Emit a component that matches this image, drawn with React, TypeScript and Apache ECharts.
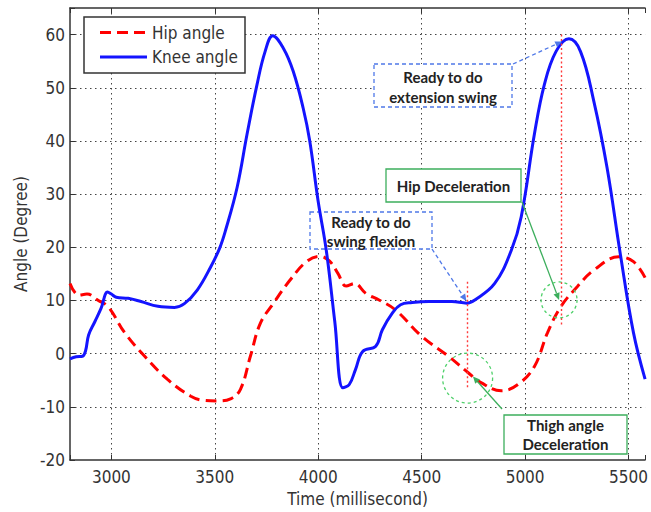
import React, { useEffect, useRef } from 'react';
import * as echarts from 'echarts';

// ---- data ----
const kneeTime = [2800, 2830, 2860, 2875, 2890, 2920, 2950, 2982, 3000, 3024, 3081, 3143, 3225, 3305, 3353, 3416, 3480, 3523, 3552, 3608, 3656, 3704, 3743, 3780, 3832, 3879, 3927, 3959, 3999, 4039, 4080, 4119, 4150, 4180, 4215, 4278, 4310, 4358, 4398, 4454, 4534, 4646, 4718, 4757, 4853, 4933, 4981, 5045, 5093, 5149, 5212, 5268, 5332, 5396, 5460, 5524, 5580];
const kneeAngle = [-1, -0.6, -0.5, 0.5, 3.5, 6, 8.5, 11.6, 11.2, 10.6, 10.4, 9.8, 8.9, 8.7, 9.4, 12, 16.3, 19.8, 23.2, 31.3, 41.3, 50.6, 56.8, 59.8, 57.4, 53.1, 46.2, 40, 28.8, 19.4, 6, -6.4, -5.8, -3, 0.4, 1.4, 4.5, 7.6, 9.2, 9.6, 9.8, 9.8, 9.5, 10.1, 13.2, 19.4, 25.7, 41.3, 50.6, 56.8, 59.2, 56.8, 47.5, 35, 18.8, 3.9, -4.8];

const hipTime = [2800, 2842, 2882, 2937, 2985, 3065, 3161, 3273, 3384, 3448, 3512, 3576, 3624, 3672, 3720, 3784, 3863, 3943, 4007, 4055, 4095, 4135, 4175, 4231, 4294, 4374, 4502, 4630, 4725, 4789, 4885, 4965, 5045, 5108, 5172, 5252, 5332, 5452, 5524, 5580];
const hipAngle = [13.2, 11, 11.2, 10, 8.8, 3.9, -0.5, -4.9, -8, -8.8, -8.9, -8.5, -6.7, -0.5, 5.7, 9.5, 13.8, 17.3, 18.3, 17.4, 15.1, 12.7, 13.2, 11.3, 10.1, 8.2, 3.2, -0.5, -3.6, -5.5, -7, -5.8, -2.4, 3.9, 8.8, 12.6, 15.7, 18.2, 17.3, 14.3];

const seriesNames = ['Hip angle', 'Knee angle'];
const xName = 'Time (millisecond)';
const yName = 'Angle (Degree)';
const xMin = 2800;
const xMax = 5580;
const yMin = -20;
const yMax = 65;

// annotation anchors in data coordinates
const extTip = [5179, 58.7];
const flexTip = [4716, 9.9];
const hipDecelPoint = [5164, 10.1];
const thighCirclePoint = [4722, -4.6];
const thighTip = [4748, -4.3];
const hipVLine = [5175, 60, 5];
const thighVLine = [4722, 13.5, -6.7];

const FONT = "'Liberation Sans Narrow', 'DejaVu Sans Condensed', 'Liberation Sans', Arial, sans-serif";
const ANN_FONT = "bold 15px Lato, 'Open Sans', 'Liberation Sans', sans-serif";
const FS = 17;

const HIP_COLOR = '#ff0000';
const KNEE_COLOR = '#1414ff';
const HIP_DASH = [11, 6];

function zip(t: number[], v: number[]) {
  return t.map((x, i) => [x, v[i]]);
}

function arrow(p0: number[], p1: number[], color: string, dash: number[] | null) {
  const dx = p1[0] - p0[0];
  const dy = p1[1] - p0[1];
  const len = Math.hypot(dx, dy);
  const ux = dx / len;
  const uy = dy / len;
  const hl = 7;
  const hw = 3.2;
  const bx = p1[0] - ux * hl;
  const by = p1[1] - uy * hl;
  return [
    {
      type: 'line',
      z: 20,
      shape: { x1: p0[0], y1: p0[1], x2: bx, y2: by },
      style: { stroke: color, lineWidth: 1.3, lineDash: dash || undefined },
    },
    {
      type: 'polygon',
      z: 20,
      shape: { points: [[p1[0], p1[1]], [bx - uy * hw, by + ux * hw], [bx + uy * hw, by - ux * hw]] },
      style: { fill: color },
    },
  ];
}

function textEl(text: string, x: number, y: number, font = ANN_FONT, fill = '#222', align = 'center', z = 6) {
  return {
    type: 'text',
    z,
    style: {
      text,
      x,
      y,
      font,
      fill,
      textAlign: align,
      textVerticalAlign: 'middle',
      align,
      verticalAlign: 'middle',
    },
  };
}

function boxEl(x: number, y: number, w: number, h: number, stroke: string, dash: number[] | null, z = 1, lw = 1.3) {
  return {
    type: 'rect',
    z,
    shape: { x, y, width: w, height: h },
    style: { fill: '#fff', stroke, lineWidth: lw, lineDash: dash || undefined },
  };
}

export default function App() {
  const ref = useRef<HTMLDivElement>(null);

  useEffect(() => {
    if (!ref.current) return;
    const chart = echarts.init(ref.current, undefined, { renderer: 'svg' });
    const axisColor = '#333';
    const splitLine = { show: true, lineStyle: { color: '#444', type: [1.5, 3.5], width: 1 } };
    chart.setOption({
      animation: false,
      backgroundColor: '#fff',
      grid: { left: 70, right: 0, top: 8, bottom: 51, containLabel: false },
      xAxis: [
        {
          type: 'value',
          min: xMin,
          max: xMax,
          name: xName,
          nameLocation: 'middle',
          nameGap: 30,
          nameTextStyle: { fontSize: FS, fontFamily: FONT, color: '#333' },
          axisLine: { show: true, onZero: false, lineStyle: { color: axisColor, width: 1.5 } },
          axisTick: { show: true, inside: true, length: 5, lineStyle: { color: axisColor } },
          axisLabel: {
            show: true,
            margin: 8,
            fontSize: FS,
            fontFamily: FONT,
            color: '#333',
            formatter: (v: number) => (v % 500 === 0 ? String(v) : ''),
          },
          splitLine: { ...splitLine, showMinLine: false, showMaxLine: false },
        },
        {
          type: 'value',
          position: 'top',
          min: xMin,
          max: xMax,
          axisLine: { show: true, onZero: false, lineStyle: { color: axisColor, width: 1.5 } },
          axisTick: { show: true, inside: true, length: 5, lineStyle: { color: axisColor } },
          axisLabel: { show: false },
          splitLine: { show: false },
        },
      ],
      yAxis: {
        type: 'value',
        min: yMin,
        max: yMax,
        interval: 10,
        name: yName,
        nameLocation: 'middle',
        nameGap: 34,
        nameTextStyle: { fontSize: FS, fontFamily: FONT, color: '#333' },
        axisLine: { show: true, onZero: false, lineStyle: { color: axisColor, width: 1.5 } },
        axisTick: { show: true, inside: true, length: 5, lineStyle: { color: axisColor } },
        axisLabel: {
          margin: 5,
          fontSize: FS,
          fontFamily: FONT,
          color: '#333',
          formatter: (v: number) => (v % 10 === 0 ? String(v) : ''),
        },
        splitLine: { ...splitLine, showMinLine: false, showMaxLine: false },
      },
      series: [
        {
          name: seriesNames[0],
          type: 'line',
          data: zip(hipTime, hipAngle),
          showSymbol: false,
          symbol: 'none',
          smooth: 0.4,
          color: HIP_COLOR,
          lineStyle: { color: HIP_COLOR, width: 3, type: HIP_DASH },
          z: 3,
          markLine: {
            silent: true,
            symbol: ['none', 'none'],
            label: { show: false },
            lineStyle: { color: '#ff3a3a', type: [2, 2.5], width: 1.4 },
            data: [
              [{ coord: [hipVLine[0], hipVLine[1]] }, { coord: [hipVLine[0], hipVLine[2]] }],
              [{ coord: [thighVLine[0], thighVLine[1]] }, { coord: [thighVLine[0], thighVLine[2]] }],
            ],
          },
        },
        {
          name: seriesNames[1],
          type: 'line',
          data: zip(kneeTime, kneeAngle),
          showSymbol: false,
          symbol: 'none',
          smooth: 0.4,
          color: KNEE_COLOR,
          lineStyle: { color: KNEE_COLOR, width: 3 },
          z: 4,
        },
      ],
    });

    const px = (p: number[]) => chart.convertToPixel({ xAxisIndex: 0, yAxisIndex: 0 }, p) as number[];
    const blue = '#4f78e8';
    const green = '#3cae5c';
    const circleGreen = '#4fd06a';
    const hipC = px(hipDecelPoint);
    const thC = px(thighCirclePoint);
    const legendFont = `${FS}px ${FONT}`;

    const graphic: any[] = [
      // legend
      boxEl(84, 17, 161, 56, '#333', null, 30, 1.5),
      {
        type: 'line',
        z: 31,
        shape: { x1: 100, y1: 32.5, x2: 147, y2: 32.5 },
        style: { stroke: HIP_COLOR, lineWidth: 3, lineDash: HIP_DASH },
      },
      textEl(seriesNames[0], 152, 32.5, legendFont, '#333', 'left', 31),
      {
        type: 'line',
        z: 31,
        shape: { x1: 100, y1: 57, x2: 147, y2: 57 },
        style: { stroke: KNEE_COLOR, lineWidth: 3 },
      },
      textEl(seriesNames[1], 152, 57, legendFont, '#333', 'left', 31),
      // Ready to do extension swing
      boxEl(374, 64, 138, 43, blue, [4, 3]),
      textEl('Ready to do', 443, 76.5),
      textEl('extension swing', 443, 96.5),
      ...arrow([513, 64], px(extTip), blue, [4, 3]),
      // Ready to do swing flexion
      boxEl(310, 212, 122, 37, blue, [4, 3]),
      textEl('Ready to do', 371, 221.5),
      textEl('swing flexion', 371, 240.5),
      ...arrow([432, 249], px(flexTip), blue, [4, 3]),
      // Hip Deceleration
      boxEl(386, 169, 135, 33, green, null),
      textEl('Hip Deceleration', 453.5, 185.5),
      ...arrow([522, 202], hipC, green, null),
      {
        type: 'circle',
        z: 20,
        shape: { cx: hipC[0], cy: hipC[1], r: 18 },
        style: { fill: 'none', stroke: circleGreen, lineWidth: 1.3, lineDash: [3, 3] },
      },
      // Thigh angle Deceleration
      boxEl(504, 415, 123, 39, green, null),
      textEl('Thigh angle', 565.5, 424.5),
      textEl('Deceleration', 565.5, 444),
      ...arrow([502, 409], px(thighTip), green, null),
      {
        type: 'circle',
        z: 20,
        shape: { cx: thC[0], cy: thC[1], r: 25 },
        style: { fill: 'none', stroke: circleGreen, lineWidth: 1.3, lineDash: [3, 3] },
      },
    ];
    chart.setOption({ graphic });

    return () => chart.dispose();
  }, []);

  return (
    <div
      ref={ref}
      style={{ position: 'fixed', left: 0, top: 0, width: 651, height: 512, background: '#fff' }}
    />
  );
}
